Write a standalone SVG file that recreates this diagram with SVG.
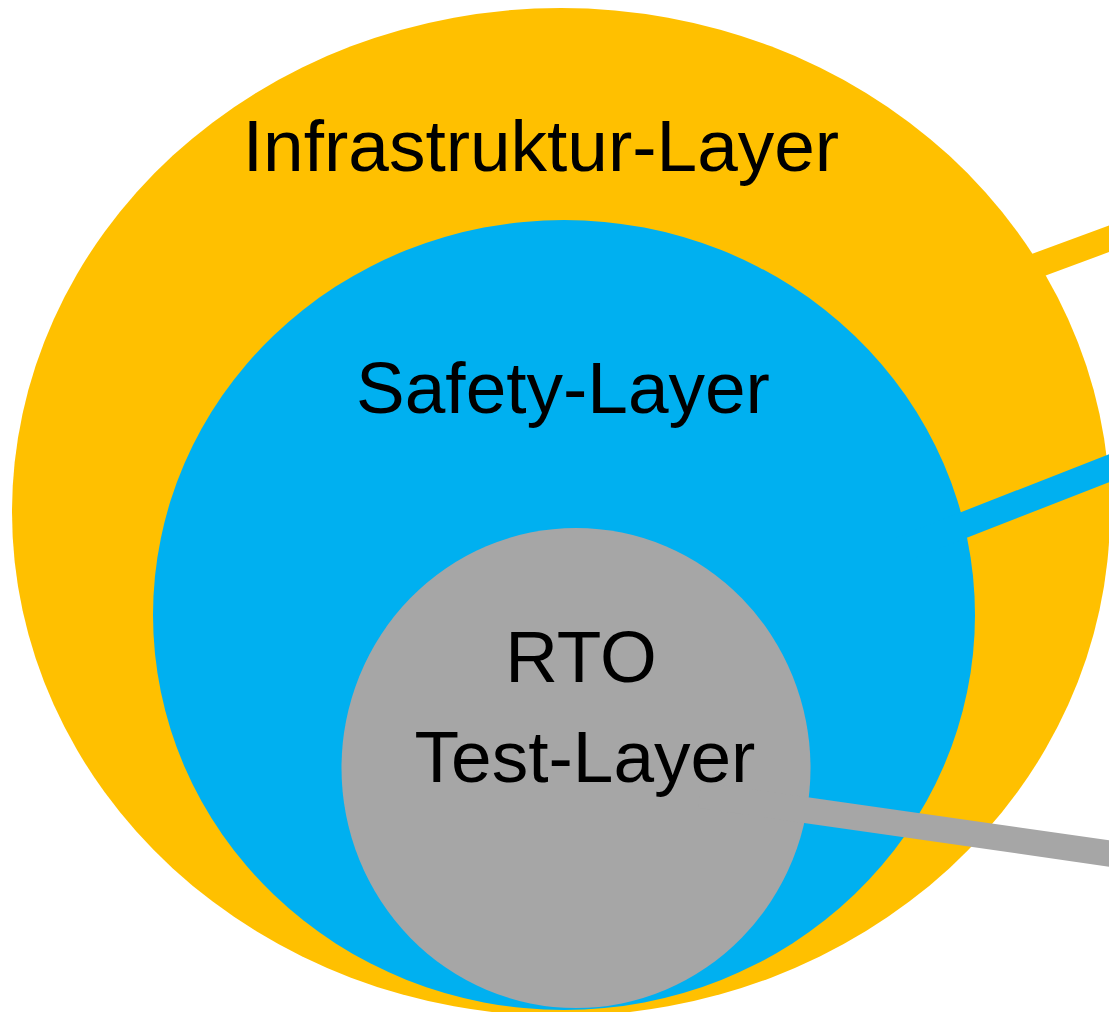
<svg xmlns="http://www.w3.org/2000/svg" width="1109" height="1012" viewBox="0 0 1109 1012">
<style>
.lbl{font-family:"Liberation Sans",Arial,sans-serif;font-size:73px;fill:#000;text-anchor:middle}
.link{fill:none;stroke-linecap:butt}
</style>
<rect width="1109" height="1012" fill="#fff"/>
<g id="infrastruktur">
<ellipse cx="561" cy="512" rx="549" ry="504" fill="#FFC000"/>
<text class="lbl" x="541" y="171">Infrastruktur-Layer</text>
</g>
<g id="connector-infra">
<line class="link" x1="1000" y1="279" x2="1130" y2="231" stroke="#FFC000" stroke-width="25"/>
</g>
<g id="safety">
<ellipse cx="564" cy="615" rx="411" ry="395" fill="#00B0F0"/>
<text class="lbl" x="563" y="413">Safety-Layer</text>
</g>
<g id="connector-safety">
<line class="link" x1="900" y1="550" x2="1130" y2="460" stroke="#00B0F0" stroke-width="26"/>
</g>
<g id="rto">
<ellipse cx="576" cy="768" rx="234.5" ry="240" fill="#A6A6A6"/>
<text class="lbl" x="581" y="682">RTO</text>
<text class="lbl" x="585" y="782">Test-Layer</text>
</g>
<g id="connectors">
<line class="link" x1="700" y1="795" x2="1130" y2="856.5" stroke="#A6A6A6" stroke-width="26"/>
</g>
</svg>
